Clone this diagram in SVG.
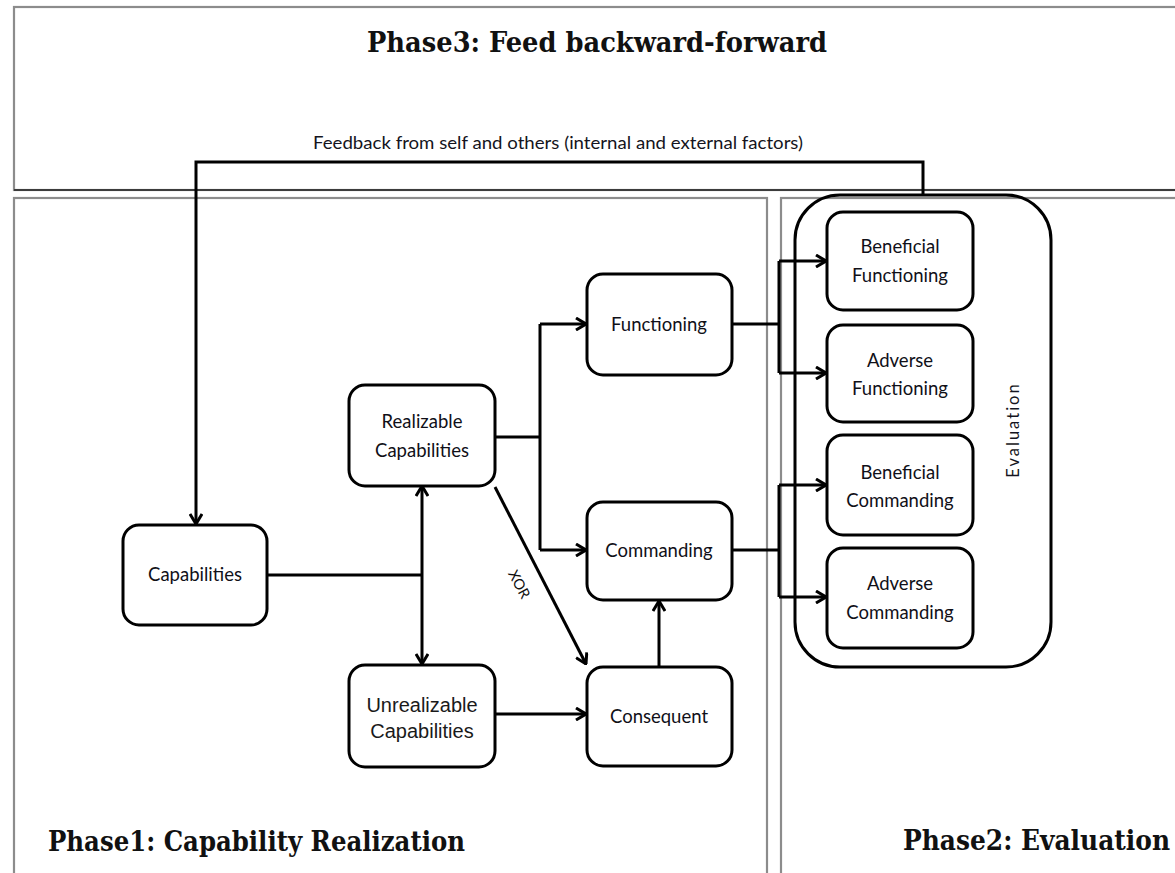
<svg xmlns="http://www.w3.org/2000/svg" width="1175" height="873" viewBox="0 0 1175 873">
  <style>
    .phase { fill: none; stroke: #8c8c8c; stroke-width: 2.2; }
    .title { font-family: "DejaVu Serif Condensed", "DejaVu Serif", serif; font-weight: bold; font-size: 27px; fill: #111; }
    .box { fill: #fff; stroke: #000; stroke-width: 3; }
    .group { fill: none; stroke: #000; stroke-width: 3; }
    .lbl { font-family: Lato, "Open Sans", sans-serif; font-size: 18.5px; fill: #101018; text-anchor: middle; }
    .alt { font-family: "Liberation Sans", Arial, sans-serif; font-size: 20px; fill: #1a1a1a; text-anchor: middle; }
    .conn { fill: none; stroke: #000; stroke-width: 3; stroke-linejoin: miter; }
    .arrow { marker-end: url(#head); }
  </style>
  <defs>
    <marker id="head" viewBox="0 0 12 14" refX="11" refY="7" markerWidth="12" markerHeight="14" markerUnits="userSpaceOnUse" orient="auto-start-reverse">
      <path d="M1,1 L11,7 L1,13" fill="none" stroke="#000" stroke-width="3"/>
    </marker>
  </defs>

  <rect width="1175" height="873" fill="#fff"/>

  <!-- phase frames -->
  <g id="phase3">
    <rect class="phase" x="14" y="7" width="1180" height="183"/>
    <line x1="14" y1="190" x2="1175" y2="190" stroke="#222" stroke-width="1.5"/>
    <text class="title" x="367" y="52" textLength="460" lengthAdjust="spacingAndGlyphs">Phase3: Feed backward-forward</text>
    <text x="313" y="149" font-family="Lato, 'Open Sans', sans-serif" font-size="17" fill="#141420" textLength="490" lengthAdjust="spacingAndGlyphs">Feedback from self and others (internal and external factors)</text>
  </g>
  <g id="phase1">
    <rect class="phase" x="14" y="198" width="753" height="700"/>
    <text class="title" x="48" y="851" textLength="417" lengthAdjust="spacingAndGlyphs">Phase1: Capability Realization</text>
  </g>
  <g id="phase2">
    <rect class="phase" x="781" y="198" width="420" height="700"/>
    <text class="title" x="903" y="850" textLength="267" lengthAdjust="spacingAndGlyphs">Phase2: Evaluation</text>
  </g>

  <!-- phase 1 nodes -->
  <g id="capabilities">
    <rect class="box" x="123" y="525" width="144" height="100" rx="16"/>
    <text class="lbl" x="195" y="581">Capabilities</text>
  </g>
  <g id="realizable">
    <rect class="box" x="349" y="385" width="146" height="101" rx="16"/>
    <text class="lbl" x="422" y="428">Realizable</text>
    <text class="lbl" x="422" y="457">Capabilities</text>
  </g>
  <g id="unrealizable">
    <rect class="box" x="349" y="665" width="146" height="102" rx="16"/>
    <text class="alt" x="422" y="712">Unrealizable</text>
    <text class="alt" x="422" y="738">Capabilities</text>
  </g>
  <g id="functioning">
    <rect class="box" x="587" y="274" width="145" height="101" rx="16"/>
    <text class="lbl" x="659" y="331">Functioning</text>
  </g>
  <g id="commanding">
    <rect class="box" x="587" y="502" width="145" height="98" rx="16"/>
    <text class="lbl" x="659" y="557">Commanding</text>
  </g>
  <g id="consequent">
    <rect class="box" x="587" y="667" width="145" height="99" rx="16"/>
    <text class="lbl" x="659" y="723">Consequent</text>
  </g>

  <!-- phase 2 nodes -->
  <g id="evaluation">
    <rect class="group" x="795" y="195" width="256" height="472" rx="45"/>
    <text x="1015" y="430" font-family="Lato, sans-serif" font-size="16.5" fill="#141420" text-anchor="middle" dominant-baseline="middle" letter-spacing="2" transform="rotate(-90 1015 430)">Evaluation</text>
  </g>
  <g id="beneficial-functioning">
    <rect class="box" x="827" y="212" width="146" height="98" rx="16"/>
    <text class="lbl" x="900" y="253">Beneficial</text>
    <text class="lbl" x="900" y="282">Functioning</text>
  </g>
  <g id="adverse-functioning">
    <rect class="box" x="827" y="325" width="146" height="97" rx="16"/>
    <text class="lbl" x="900" y="367">Adverse</text>
    <text class="lbl" x="900" y="395">Functioning</text>
  </g>
  <g id="beneficial-commanding">
    <rect class="box" x="827" y="435" width="146" height="100" rx="16"/>
    <text class="lbl" x="900" y="479">Beneficial</text>
    <text class="lbl" x="900" y="507">Commanding</text>
  </g>
  <g id="adverse-commanding">
    <rect class="box" x="827" y="548" width="146" height="100" rx="16"/>
    <text class="lbl" x="900" y="590">Adverse</text>
    <text class="lbl" x="900" y="619">Commanding</text>
  </g>

  <!-- connectors -->
  <g id="connectors">
    <path class="conn arrow" d="M923,196 V162 H196 V524"/>
    <path class="conn" d="M267,575 H422"/>
    <path class="conn" d="M422,486 V664" marker-start="url(#head)" marker-end="url(#head)"/>
    <path class="conn" d="M495,437 H540 M540,324 V550"/>
    <path class="conn arrow" d="M540,324 H586"/>
    <path class="conn arrow" d="M540,550 H586"/>
    <path class="conn arrow" d="M495,487 L586,664"/>
    <text x="518" y="585" font-family="Lato, sans-serif" font-size="14.5" fill="#111" text-anchor="middle" dominant-baseline="middle" transform="rotate(62 518 585)">XOR</text>
    <path class="conn arrow" d="M495,714 H586"/>
    <path class="conn arrow" d="M659,667 V601"/>
    <path class="conn" d="M732,324 H779 M779,261 V373"/>
    <path class="conn arrow" d="M779,261 H826"/>
    <path class="conn arrow" d="M779,373 H826"/>
    <path class="conn" d="M732,550 H779 M779,485 V597"/>
    <path class="conn arrow" d="M779,485 H826"/>
    <path class="conn arrow" d="M779,597 H826"/>
  </g>
</svg>
